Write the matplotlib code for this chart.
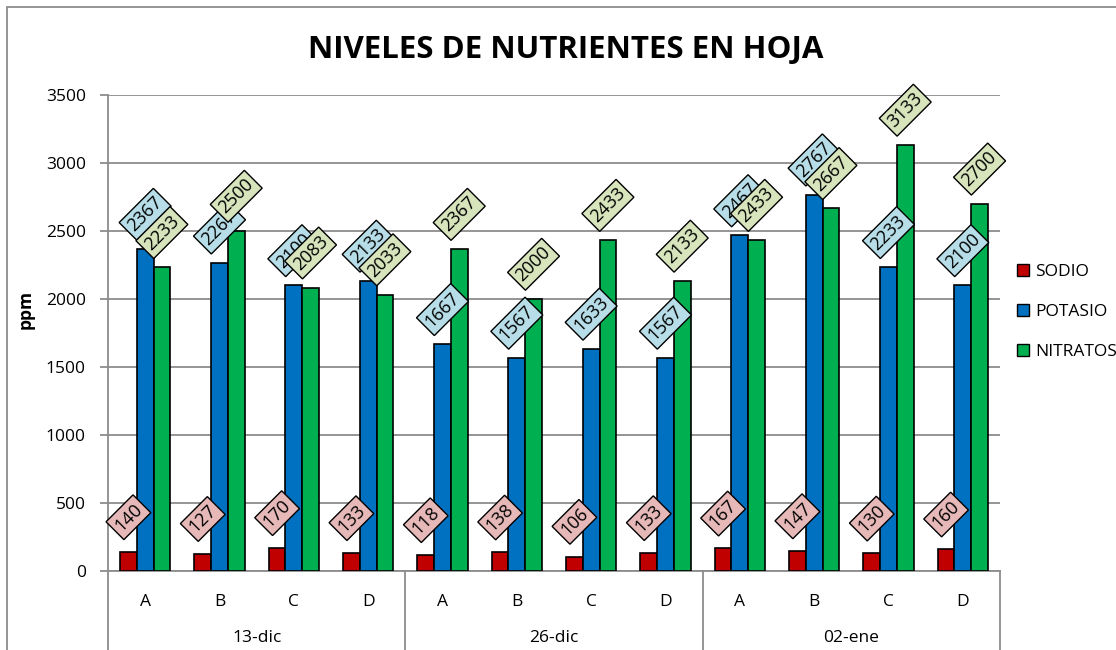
import matplotlib
matplotlib.use("Agg")
import matplotlib.pyplot as plt
import numpy as np
from matplotlib.patches import Rectangle
from matplotlib.lines import Line2D

plt.rcParams['font.family'] = ['Open Sans', 'DejaVu Sans']

subcats = ["A", "B", "C", "D", "A", "B", "C", "D", "A", "B", "C", "D"]
groups = ["13-dic", "26-dic", "02-ene"]
series_names = ["SODIO", "POTASIO", "NITRATOS"]
sodio = [140, 127, 170, 133, 118, 138, 106, 133, 167, 147, 130, 160]
potasio = [2367, 2267, 2100, 2133, 1667, 1567, 1633, 1567, 2467, 2767, 2233, 2100]
nitratos = [2233, 2500, 2083, 2033, 2367, 2000, 2433, 2133, 2433, 2667, 3133, 2700]
yticks = [0, 500, 1000, 1500, 2000, 2500, 3000, 3500]

bar_colors = ["#C00000", "#0070C0", "#00B050"]
label_colors = ["#E6B9B8", "#B7DEE8", "#D7E4BC"]

W, H = 1116, 650
fig = plt.figure(figsize=(W / 100, H / 100), dpi=100)

# outer chart border (only top/left visible)
fig.patches.append(Rectangle((7 / W, -0.1), 1.2, 1 - 7 / H + 0.1, transform=fig.transFigure,
                             fill=False, ec="#8c8c8c", lw=1.3, zorder=0))

x0, x1, ytop, ybot = 108, 1000, 95, 571
ax = fig.add_axes([x0 / W, 1 - ybot / H, (x1 - x0) / W, (ybot - ytop) / H])

n = len(subcats)
x = np.arange(n)
bw = 0.225
data = [sodio, potasio, nitratos]
for i, (vals, c) in enumerate(zip(data, bar_colors)):
    ax.bar(x + (i - 1) * bw, vals, width=bw, color=c, edgecolor="black", linewidth=1.2,
           label=series_names[i], zorder=3)

for i, (vals, lc) in enumerate(zip(data, label_colors)):
    for xi, v in zip(x, vals):
        ax.annotate(str(v), (xi + (i - 1) * bw, v), xytext=(0, 25), textcoords="offset points",
                    rotation=45, ha="center", va="center", fontsize=13, zorder=5,
                    bbox=dict(boxstyle="square,pad=0.2", fc=lc, ec="black", lw=1.0))

ax.set_xlim(-0.5, n - 0.5)
ax.set_ylim(0, 3500)
ax.set_yticks(yticks)
ax.set_yticklabels([str(t) for t in yticks], fontsize=12.5)
ax.yaxis.grid(True, color="#8c8c8c", lw=1.3, zorder=0)
ax.set_axisbelow(True)
for s in ["top", "right"]:
    ax.spines[s].set_visible(False)
ax.spines["left"].set_color("#8c8c8c")
ax.spines["left"].set_linewidth(1.3)
ax.spines["bottom"].set_color("#8c8c8c")
ax.spines["bottom"].set_linewidth(1.3)
ax.tick_params(axis="y", length=6, color="#8c8c8c", width=1.3, pad=10)
ax.set_xticks([])

# multi-level category labels
tr = ax.get_xaxis_transform()
axh = ybot - ytop
for xi, s in zip(x, subcats):
    ax.text(xi, -(602 - ybot) / axh, s, transform=tr, ha="center", va="center", fontsize=12.5)
for g, name in enumerate(groups):
    ax.text(g * 4 + 1.5, -(638 - ybot) / axh, name, transform=tr, ha="center", va="center", fontsize=12.5)
for b in [-0.5, 3.5, 7.5, 11.5]:
    ax.plot([b, b], [0, -(700 - ybot) / axh], transform=tr, color="#8c8c8c", lw=1.3, clip_on=False)

ax.set_ylabel("ppm", fontsize=12.5, fontweight="bold")
ax.yaxis.set_label_coords(-(108 - 35) / (x1 - x0), 0.55)

fig.text(566 / W, 1 - 50 / H, "NIVELES DE NUTRIENTES EN HOJA", ha="center", va="center",
         fontsize=22.5, fontweight="bold")

handles = [Line2D([], [], marker="s", ls="none", markersize=9, markerfacecolor=c,
                  markeredgecolor="black", markeredgewidth=1.0) for c in bar_colors]
fig.legend(handles, series_names, loc="center left", bbox_to_anchor=(1009 / W, 1 - 312 / H),
           frameon=False, fontsize=12.5, handlelength=0.8, handletextpad=0.3, labelspacing=1.35,
           borderaxespad=0)

fig.savefig("out.png", dpi=100)
